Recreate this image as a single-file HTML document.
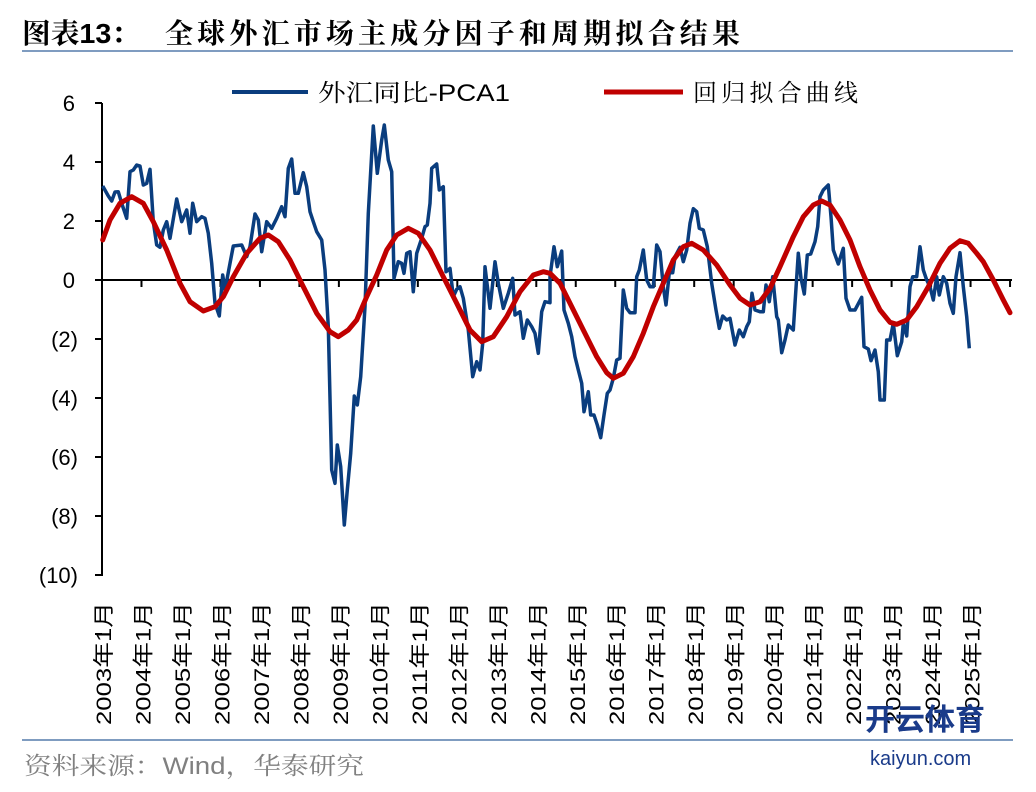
<!DOCTYPE html>
<html><head><meta charset="utf-8"><style>
body{margin:0;background:#fff;width:1036px;height:792px;overflow:hidden}
svg{display:block}
</style></head><body>
<svg id="s" width="1036" height="792" xmlns="http://www.w3.org/2000/svg">
<text x="22" y="43" font-family="'Liberation Sans','Noto Serif CJK SC',serif" font-size="28" font-weight="bold" fill="#000" textLength="118" lengthAdjust="spacingAndGlyphs">图表13：</text>
<text x="165" y="43" font-family="'Liberation Sans','Noto Serif CJK SC',serif" font-size="28" font-weight="bold" fill="#000" textLength="575" lengthAdjust="spacing">全球外汇市场主成分因子和周期拟合结果</text>
<line x1="22" y1="51" x2="1013" y2="51" stroke="#7f9cc0" stroke-width="2"/>
<line x1="232" y1="92" x2="308" y2="92" stroke="#0a3d7e" stroke-width="4"/>
<text x="318" y="101" font-family="'Liberation Sans','Noto Serif CJK SC',serif" font-size="24" fill="#000" textLength="192" lengthAdjust="spacingAndGlyphs">外汇同比-PCA1</text>
<line x1="604" y1="92" x2="683" y2="92" stroke="#c00000" stroke-width="5"/>
<text x="693" y="101" font-family="'Liberation Sans','Noto Serif CJK SC',serif" font-size="24" fill="#000" textLength="165" lengthAdjust="spacing">回归拟合曲线</text>
<g font-family="'Liberation Sans',sans-serif" font-size="22" fill="#000" text-anchor="end">
<text x="75" y="111">6</text><text x="75" y="170">4</text><text x="75" y="229">2</text><text x="75" y="288">0</text>
<text x="78" y="347">(2)</text><text x="78" y="406">(4)</text><text x="78" y="465">(6)</text><text x="78" y="524">(8)</text><text x="78" y="583">(10)</text>
</g>
<g id="ax" stroke="#000" stroke-width="2"></g>
<g id="lb" font-family="'Liberation Sans','Noto Sans CJK SC',sans-serif" font-size="21" fill="#000"></g>
<polyline id="blue" fill="none" stroke="#0a3d7e" stroke-width="3.5" stroke-linejoin="round"/>
<polyline id="red" fill="none" stroke="#c00000" stroke-width="5" stroke-linejoin="round" stroke-linecap="round"/>
<line x1="22" y1="740" x2="1013" y2="740" stroke="#7f9cc0" stroke-width="2"/>
<text x="24" y="774" font-family="'Liberation Sans','Noto Serif CJK SC',serif" font-size="24" fill="#808080" textLength="340" lengthAdjust="spacingAndGlyphs">资料来源：Wind，华泰研究</text>
<text x="865" y="730" font-family="'Liberation Sans','Noto Sans CJK SC',sans-serif" font-size="30" font-weight="bold" fill="#1a3b8a">开云体育</text>
<text x="870" y="765" font-family="'Liberation Sans',sans-serif" font-size="20" fill="#1a3b8a">kaiyun.com</text>
</svg>
<script>
var NS="http://www.w3.org/2000/svg";
var ax=document.getElementById('ax'),lb=document.getElementById('lb');
function L(x1,y1,x2,y2){var l=document.createElementNS(NS,'line');l.setAttribute('x1',x1);l.setAttribute('y1',y1);l.setAttribute('x2',x2);l.setAttribute('y2',y2);ax.appendChild(l);}
L(102,103,102,576);L(102,280,1012,280);
for(var i=0;i<10;i++){var y=103+i*59;L(95,y,102,y);}
for(var k=0;k<24;k++){var x=102+k*39.48;L(x,280,x,287);
 if(k<23){var t=document.createElementNS(NS,'text');var cx=x+9;t.setAttribute('transform','translate('+cx+',725) rotate(-90)');t.setAttribute('textLength','123');t.setAttribute('lengthAdjust','spacingAndGlyphs');t.textContent=(2003+k)+'年1月';lb.appendChild(t);}}
var b1=[38,288,55,318,65,333,75,306,85,305,95,340,110,385,120,245,130,240,140,225,150,228,160,285,170,280,180,238,190,395,200,465,210,472,220,420,230,395,240,445,260,327,275,395,290,360,300,430,308,340,320,395,335,380,345,385,355,430,365,520,375,640,388,678,398,555,405,600,420,520,430,468,455,465,470,500,480,470,495,372,505,390,515,485,530,395,545,415,560,385,575,350,585,380,595,235,605,207,615,310,625,310,640,248,650,290,660,365,670,395,680,425,695,450,705,540,715,710,725,1140,735,1180,742,1065,752,1130,763,1305,772,1200,782,1090,793,918,802,945,812,860,825,650,835,370,850,108,862,250,875,150,883,105,895,210,905,245,912,565,925,515,935,520,942,550,950,490,960,485,970,605,980,490,995,445,1005,410,1012,405,1020,340,1025,235,1040,222,1048,300,1060,290,1068,545,1075,540,1080,535,1090,620,1100,598,1110,590,1120,625,1135,720,1148,860,1160,815,1170,840,1178,760,1185,530,1200,655,1215,515,1225,580,1240,655,1255,610,1268,565,1275,675,1290,665,1300,745,1312,690,1325,710,1335,730,1345,790,1355,665,1365,635,1380,638];
var b2=[30,560,42,470,52,530,65,483,72,660,85,700,95,740,105,800,115,840,125,880,132,965,145,905,152,975,162,975,172,1005,182,1043,192,975,202,910,210,900,220,865,230,810,240,805,250,600,260,655,270,668,285,668,290,560,298,540,310,480,320,570,330,590,340,590,350,465,360,485,370,590,378,645,388,548,398,548,405,500,420,472,430,515,440,480,450,400,460,356,470,365,478,415,490,420,502,470,515,580,528,660,538,715,548,678,560,690,570,685,585,765,598,720,610,740,620,710,628,695,636,610,645,660,660,665,670,665,678,585,688,635,698,560,710,680,715,690,725,788,735,750,745,705,760,720,765,640,775,490,783,565,793,612,802,495,812,492,825,455,833,410,840,320,850,300,865,285,873,380,880,480,895,522,910,475,918,625,930,660,945,660,965,622,972,770,985,777,993,812,1005,780,1015,845,1020,930,1033,930,1040,750,1050,750,1060,700,1072,797,1085,755,1090,700,1100,738,1110,590,1118,560,1130,560,1140,470,1150,540,1160,570,1170,590,1180,630,1190,560,1198,615,1210,560,1220,580,1230,640,1240,670,1248,560,1260,488,1270,590,1280,680,1288,775];
var r1=[38,450,60,390,90,340,125,320,160,340,190,395,230,480,270,580,300,635,340,663,375,650,400,620,430,560,470,490,510,445,535,435,565,455,600,510,640,590,680,670,720,725,745,740,775,720,800,690,830,620,860,555,890,480,920,435,955,415,985,430,1020,480,1060,560,1100,640,1140,720,1175,755,1210,740,1250,680,1290,605,1330,555,1360,545];
var r2=[30,550,60,580,90,640,130,720,170,800,200,848,220,865,250,850,280,800,310,730,340,650,370,580,400,510,430,470,455,460,490,480,530,525,570,585,600,625,630,645,660,635,690,595,720,530,760,440,790,380,820,345,845,333,870,345,900,390,930,450,960,530,990,600,1020,660,1050,697,1070,703,1100,690,1130,650,1165,590,1200,520,1230,475,1260,452,1285,460,1310,490,1330,515,1360,570,1390,630,1410,668];
function pts(a,ox){var s=[];for(var i=0;i<a.length;i+=2){s.push((ox+a[i]/3).toFixed(1)+','+(90+a[i+1]/3).toFixed(1));}return s;}
document.getElementById('blue').setAttribute('points',pts(b1,90).concat(pts(b2,540)).join(' '));
document.getElementById('red').setAttribute('points',pts(r1,90).concat(pts(r2,540)).join(' '));
</script>
</body></html>
